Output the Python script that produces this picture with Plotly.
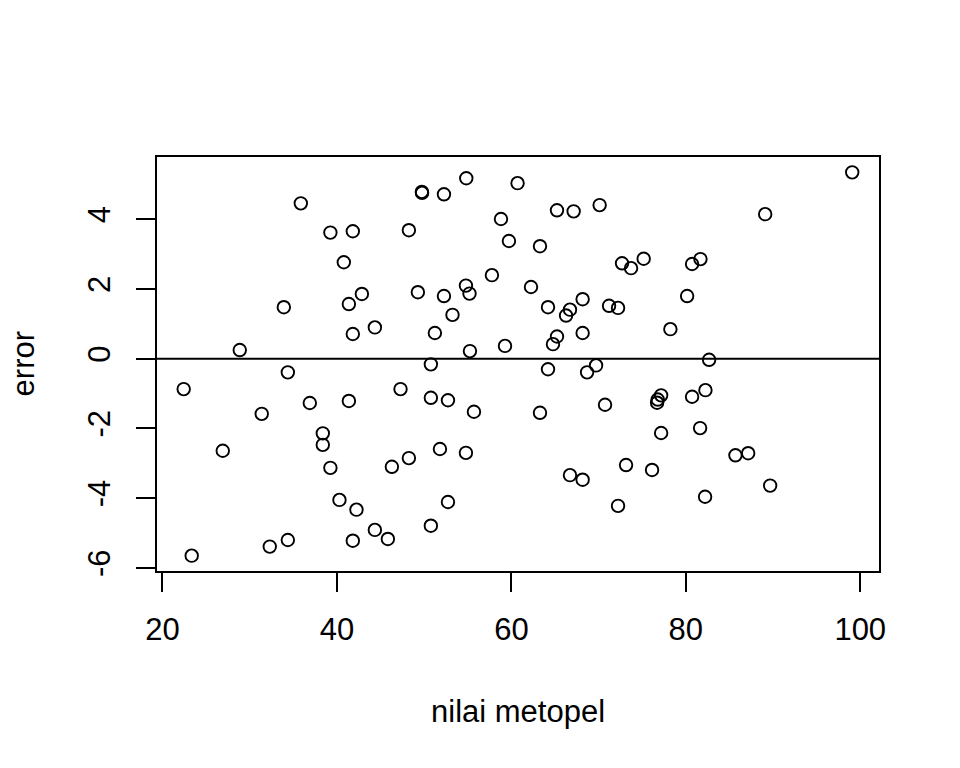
import plotly.graph_objects as go

# nilai metopel (x) and residual error (y)
nilai_metopel = [
    22.43, 23.35, 26.91, 28.86, 31.38, 32.30, 33.91, 34.37, 34.37, 35.86,
    36.89, 38.38, 38.38, 39.25, 39.25, 40.29, 40.79, 41.37, 41.37, 41.82,
    41.82, 41.82, 42.24, 42.86, 44.35, 44.35, 45.84, 46.30, 47.29, 48.25,
    48.25, 49.28, 49.74, 49.76, 50.77, 50.77, 50.77, 51.23, 51.81, 52.27,
    52.27, 52.73, 52.73, 53.25, 54.83, 54.79, 54.79, 55.20, 55.25, 55.71,
    57.77, 58.81, 59.27, 59.72, 60.71, 62.25, 63.28, 63.28, 64.20, 64.20,
    64.77, 65.23, 65.23, 66.27, 66.72, 66.72, 67.14, 68.17, 68.17, 68.17,
    68.68, 69.71, 70.12, 70.74, 71.20, 72.23, 72.23, 72.69, 73.15, 73.72,
    75.17, 76.13, 76.71, 76.78, 77.17, 77.17, 78.23, 80.15, 80.72, 80.72,
    81.68, 81.64, 82.25, 82.21, 82.67, 85.69, 87.15, 89.10, 89.67, 99.08,
]
error = [
    -0.87, -5.65, -2.64, 0.25, -1.58, -5.39, 1.48, -5.20, -0.39, 4.46,
    -1.27, -2.14, -2.47, 3.62, -3.13, -4.05, 2.77, 1.57, -1.21, 3.66,
    0.71, -5.22, -4.33, 1.86, 0.90, -4.91, -5.17, -3.10, -0.87, 3.69,
    -2.85, 1.91, 4.79, 4.76, -0.16, -1.12, -4.79, 0.74, -2.59, 1.80,
    4.72, -1.19, -4.11, 1.26, 5.18, 2.10, -2.70, 1.87, 0.22, -1.52,
    2.40, 4.01, 0.37, 3.38, 5.04, 2.06, -1.55, 3.23, -0.30, 1.48,
    0.42, 0.64, 4.26, 1.24, 1.41, -3.34, 4.23, 0.74, 1.71, -3.47,
    -0.39, -0.19, 4.41, -1.32, 1.52, 1.46, -4.22, 2.74, -3.05, 2.60,
    2.87, -3.19, -1.26, -1.17, -1.05, -2.13, 0.85, 1.80, -1.09, 2.72,
    2.86, -1.99, -0.90, -3.96, -0.03, -2.77, -2.71, 4.15, -3.64, 5.35,
]
x_ticks = [20, 40, 60, 80, 100]
y_ticks = [-6, -4, -2, 0, 2, 4]
x_title = "nilai metopel"
y_title = "error"

FONT = "Liberation Sans, Arial, sans-serif"
FS = 31
LW = 1.8

fig = go.Figure()
fig.add_trace(go.Scatter(
    x=nilai_metopel, y=error, mode="markers",
    marker=dict(symbol="circle-open", size=12.5, color="black",
                line=dict(color="black", width=1.9)),
    showlegend=False, hoverinfo="x+y",
))

fig.add_hline(y=0, line=dict(color="black", width=LW))

fig.update_layout(
    width=960, height=768, autosize=False,
    margin=dict(l=157, r=81, t=157, b=197, pad=0),
    paper_bgcolor="white", plot_bgcolor="white",
    font=dict(family=FONT, size=FS, color="black"),
    xaxis=dict(
        range=[19.37, 102.15], tickvals=x_ticks, ticktext=[str(v) for v in x_ticks],
        showgrid=False, zeroline=False,
        showline=True, mirror=True, linecolor="black", linewidth=LW,
        ticks="outside", ticklen=19, tickwidth=LW, tickcolor="black",
        tickfont=dict(family=FONT, size=FS, color="black"),
        ticklabelstandoff=11,
    ),
    yaxis=dict(
        range=[-6.09, 5.79], tickvals=y_ticks, ticktext=[str(v) for v in y_ticks],
        showgrid=False, zeroline=False,
        showline=True, mirror=True, linecolor="black", linewidth=LW,
        ticks="outside", ticklen=19, tickwidth=LW, tickcolor="black",
        tickangle=-90,
        tickfont=dict(family=FONT, size=FS, color="black"),
        ticklabelstandoff=14,
    ),
    annotations=[
        dict(text=x_title, xref="paper", yref="paper", x=0.5, y=-0.34,
             xanchor="center", yanchor="middle", showarrow=False,
             font=dict(family=FONT, size=FS, color="black")),
        dict(text=y_title, xref="paper", yref="paper", x=-0.185, y=0.5,
             xanchor="center", yanchor="middle", textangle=-90, showarrow=False,
             font=dict(family=FONT, size=FS, color="black")),
    ],
)

fig.write_html("out.html", config={"displayModeBar": False},
               post_script="document.body.style.margin='0px';")
